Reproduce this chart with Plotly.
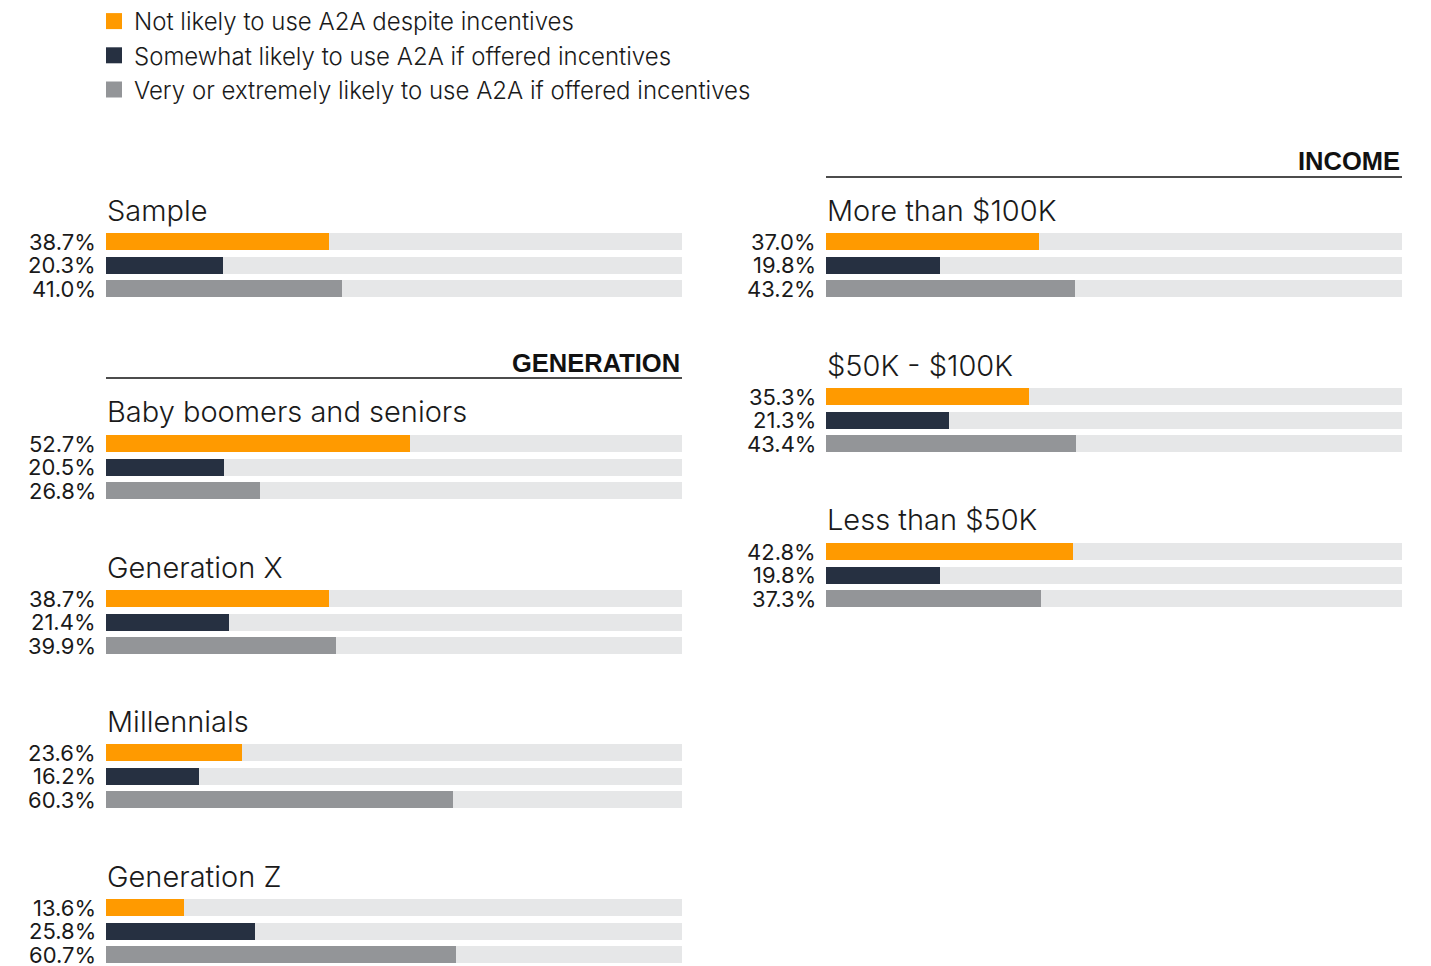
import plotly.graph_objects as go

OFF = 8  # page body margin
W, H = 1431 - OFF, 966 - OFF

series_names = [
    "Not likely to use A2A despite incentives",
    "Somewhat likely to use A2A if offered incentives",
    "Very or extremely likely to use A2A if offered incentives",
]
series_colors = ["#FF9A00", "#263041", "#939598"]
track_color = "#E6E7E8"

groups = ["Sample", "Baby boomers and seniors", "Generation X", "Millennials", "Generation Z",
          "More than $100K", "$50K - $100K", "Less than $50K"]
not_likely = [38.7, 52.7, 38.7, 23.6, 13.6, 37.0, 35.3, 42.8]
somewhat = [20.3, 20.5, 21.4, 16.2, 25.8, 19.8, 21.3, 19.8]
very = [41.0, 26.8, 39.9, 60.3, 60.7, 43.2, 43.4, 37.3]

section_titles = ["GENERATION", "INCOME"]

# layout positions (pixels in the reference page)
col_x = [(106, 682)] * 5 + [(826, 1402)] * 3
title_y = [211, 412, 567, 721, 876, 211, 365, 520]
bar0_y = [242, 444, 599, 753, 908, 242, 397, 552]
slot = 23.4

def fx(px):
    return (px - OFF) / W

def fy(py):
    return 1 - (py - OFF) / H

fig = go.Figure()
layout_axes = {}
annotations = []

# legend entries
for name, col in zip(series_names, series_colors):
    fig.add_trace(go.Scatter(x=[None], y=[None], mode="markers", name=name, legendgroup=name,
                             marker=dict(symbol="square", size=16, color=col, line=dict(width=0)),
                             showlegend=True, hoverinfo="skip"))

for gi, g in enumerate(groups):
    n = gi + 1
    xa = "x" if n == 1 else f"x{n}"
    ya = "y" if n == 1 else f"y{n}"
    x0, x1 = col_x[gi]
    top = bar0_y[gi] - slot / 2
    bot = bar0_y[gi] + 2.5 * slot
    lo = fy(bot)
    rng = [2.5, -0.5]
    if lo < 0:
        frac_visible = (fy(top) - 0) / (fy(top) - lo)
        rng = [-0.5 + 3 * frac_visible, -0.5]
        lo = 0
    layout_axes["xaxis" if n == 1 else f"xaxis{n}"] = dict(
        domain=[fx(x0), fx(x1)], range=[0, 100], visible=False, anchor=ya, fixedrange=True)
    layout_axes["yaxis" if n == 1 else f"yaxis{n}"] = dict(
        domain=[lo, fy(top)], range=rng, visible=False, anchor=xa, fixedrange=True)
    fig.add_trace(go.Bar(x=[100, 100, 100], y=[0, 1, 2], orientation="h", width=0.72,
                         marker=dict(color=track_color, line=dict(width=0)),
                         xaxis=xa, yaxis=ya, showlegend=False, hoverinfo="skip"))
    vals = [not_likely[gi], somewhat[gi], very[gi]]
    for si, (name, col) in enumerate(zip(series_names, series_colors)):
        fig.add_trace(go.Bar(x=[vals[si]], y=[si], orientation="h", width=0.72, name=name,
                             marker=dict(color=col, line=dict(width=0)),
                             xaxis=xa, yaxis=ya, showlegend=False, legendgroup=name))
        annotations.append(dict(x=0, y=si, xref=xa, yref=ya, text=f"{vals[si]:.1f}%",
                                showarrow=False, xanchor="right", yanchor="middle", xshift=-8,
                                font=dict(family="Inter", size=22, color="#1a1a1a", weight=400)))
    annotations.append(dict(x=fx(x0 - 1), y=fy(title_y[gi]), xref="paper", yref="paper", text=g,
                            showarrow=False, xanchor="left", yanchor="middle",
                            font=dict(family="Inter", size=29, color="#1a1a1a", weight=300)))

headers = [("GENERATION", 682, 363, 378, 106), ("INCOME", 1402, 161, 177, 826)]
shapes = []
for text, xr, ty, ly, xl in headers:
    annotations.append(dict(x=fx(xr), y=fy(ty), xref="paper", yref="paper", text=f"<b>{text}</b>",
                            showarrow=False, xanchor="right", yanchor="middle",
                            font=dict(family="Liberation Sans", size=25.5, color="#111111")))
    shapes.append(dict(type="line", xref="paper", yref="paper", x0=fx(xl), x1=fx(xr),
                       y0=fy(ly), y1=fy(ly), line=dict(color="#111111", width=1.5)))

fig.update_layout(
    width=W, height=H, margin=dict(l=0, r=0, t=0, b=0, autoexpand=False),
    paper_bgcolor="white", plot_bgcolor="white",
    barmode="overlay", bargap=0,
    annotations=annotations, shapes=shapes,
    legend=dict(x=fx(94), y=1 + 9 / H, xanchor="left", yanchor="top", orientation="v",
                font=dict(family="Inter", size=24, color="#1a1a1a", weight=300),
                bgcolor="rgba(0,0,0,0)", tracegroupgap=0, itemclick=False, itemdoubleclick=False),
    showlegend=True,
    **layout_axes,
)

fig.write_html("out.html")
